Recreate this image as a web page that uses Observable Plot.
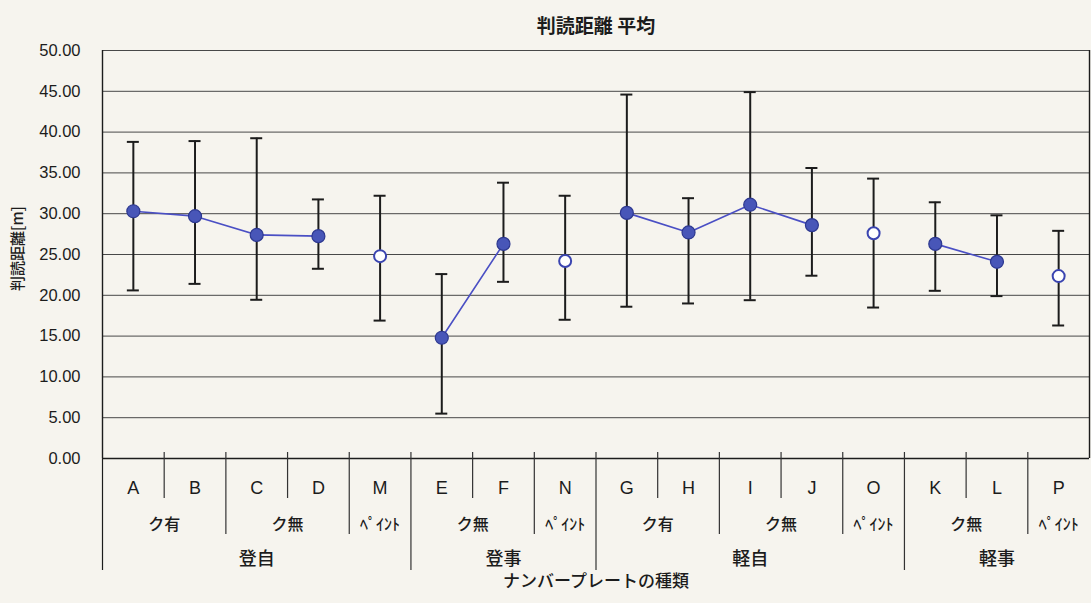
<!DOCTYPE html>
<html><head><meta charset="utf-8">
<script src="https://cdn.jsdelivr.net/npm/d3@7"></script>
<script src="https://cdn.jsdelivr.net/npm/@observablehq/plot@0.6"></script>
<style>
html,body{margin:0;padding:0;background:#f6f4ee;}
#chart svg{display:block;}
</style></head><body><div id="chart"></div>
<script>
const chartTitle = "判読距離 平均";
const yLabel = "判読距離[m]";
const xLabel = "ナンバープレートの種類";
const categories = ["A","B","C","D","M","E","F","N","G","H","I","J","O","K","L","P"];
const means = [30.3, 29.7, 27.4, 27.25, 24.8, 14.8, 26.3, 24.2, 30.1, 27.7, 31.1, 28.6, 27.6, 26.3, 24.1, 22.35];
const upper = [38.8, 38.9, 39.25, 31.75, 32.2, 22.6, 33.8, 32.2, 44.6, 31.9, 44.9, 35.6, 34.3, 31.4, 29.8, 27.9];
const lower = [20.6, 21.4, 19.45, 23.25, 16.9, 5.5, 21.65, 17.0, 18.6, 19.0, 19.4, 22.4, 18.5, 20.55, 19.9, 16.3];
const plateType = ["ク有","ク有","ク無","ク無","ﾍﾟｲﾝﾄ","ク無","ク無","ﾍﾟｲﾝﾄ","ク有","ク有","ク無","ク無","ﾍﾟｲﾝﾄ","ク無","ク無","ﾍﾟｲﾝﾄ"];
const plateClass = ["登自","登自","登自","登自","登自","登事","登事","登事","軽自","軽自","軽自","軽自","軽自","軽事","軽事","軽事"];
const paintType = "ﾍﾟｲﾝﾄ";
const yTicks = [0, 5, 10, 15, 20, 25, 30, 35, 40, 45, 50];

const rows = categories.map((c, i) => ({
  cat: c, pos: i + 0.5, mean: means[i], lo: lower[i], hi: upper[i],
  type: plateType[i], cls: plateClass[i], paint: plateType[i] === paintType
}));

function runs(keyFn, labelFn) {
  const out = [];
  rows.forEach((r, i) => {
    const k = keyFn(r);
    if (out.length && out[out.length - 1].key === k) out[out.length - 1].end = i + 1;
    else out.push({key: k, label: labelFn(r), start: i, end: i + 1});
  });
  return out.map(d => ({...d, mid: (d.start + d.end) / 2}));
}
const typeRuns = runs(r => r.cls + "|" + r.type, r => r.type);
const classRuns = runs(r => r.cls, r => r.cls);

const boundaries = d3.range(1, categories.length).map(b => {
  const a = rows[b - 1], c = rows[b];
  return {b, level: a.cls !== c.cls ? 3 : a.type !== c.type ? 2 : 1};
});

const ink = "#1c1c1c";
const latin = "'Liberation Sans', Arial, sans-serif";
const cjk = "'Noto Sans CJK JP', sans-serif";
const sepDepth = {1: -40, 2: -76, 3: -112};

const marks = [
  Plot.ruleY(yTicks.filter(v => v > 0), {stroke: "#484848", strokeWidth: 1}),
  Plot.ruleY([0], {stroke: ink, strokeWidth: 1.6}),
  Plot.ruleX([0], {stroke: ink, strokeWidth: 1.4}),
  Plot.ruleX([0], {x: d => d, y1: () => 0, y2: () => 0, insetBottom: sepDepth[3], stroke: ink, strokeWidth: 1.2}),
  Plot.ruleX([categories.length], {stroke: ink, strokeWidth: 1.4}),
  ...[1, 2, 3].map(lv => Plot.ruleX(boundaries.filter(d => d.level === lv), {
    x: "b", y1: () => 0, y2: () => 0, insetTop: -6, insetBottom: sepDepth[lv], stroke: "#333", strokeWidth: 1.2
  })),
  Plot.axisY(yTicks, {tickSize: 0, tickPadding: 22, tickFormat: d3.format(".2f"), fontSize: 16.5, fontFamily: latin, fill: ink, label: null}),
  Plot.ruleX(rows, {x: "pos", y1: "lo", y2: "hi", stroke: ink, strokeWidth: 2}),
  Plot.ruleY(rows, {y: "hi", x1: "pos", x2: "pos", insetLeft: -6, insetRight: -6, stroke: ink, strokeWidth: 2}),
  Plot.ruleY(rows, {y: "lo", x1: "pos", x2: "pos", insetLeft: -6, insetRight: -6, stroke: ink, strokeWidth: 2}),
  Plot.line(rows.filter(d => !d.paint), {x: "pos", y: "mean", z: "cls", stroke: "#4a4fc4", strokeWidth: 1.6}),
  Plot.dot(rows.filter(d => !d.paint), {x: "pos", y: "mean", r: 6.5, fill: "#4856b8", stroke: "#2d3890", strokeWidth: 1.2}),
  Plot.dot(rows.filter(d => d.paint), {x: "pos", y: "mean", r: 6, fill: "#ffffff", stroke: "#3a44b0", strokeWidth: 2}),
  Plot.text(rows, {x: "pos", y: () => 0, text: "cat", dy: 30, fontSize: 18, fontFamily: latin, fill: ink}),
  Plot.text(typeRuns, {x: "mid", y: () => 0, text: "label", dy: 66, fontSize: 16, fontFamily: cjk, fontWeight: 500, fill: ink}),
  Plot.text(classRuns, {x: "mid", y: () => 0, text: "label", dy: 101, fontSize: 18, fontFamily: cjk, fontWeight: 500, fill: ink}),
  Plot.text([xLabel], {frameAnchor: "bottom", dy: 128, fontSize: 17, fontFamily: cjk, fontWeight: 500, fill: ink}),
  Plot.text([chartTitle], {frameAnchor: "top", dy: -31, fontSize: 19, fontFamily: cjk, fontWeight: 700, fill: ink}),
  Plot.text([yLabel], {frameAnchor: "left", textAnchor: "middle", dx: -84, dy: -6, rotate: -90, fontSize: 15, fontFamily: cjk, fontWeight: 500, fill: ink})
];

const chart = Plot.plot({
  width: 1091, height: 603,
  marginLeft: 102, marginRight: 2, marginTop: 50, marginBottom: 145,
  x: {type: "linear", domain: [0, categories.length], axis: null},
  y: {domain: [0, 50], axis: null},
  style: {background: "#f6f4ee", fontFamily: latin, overflow: "visible"},
  marks
});
document.getElementById("chart").append(chart);
</script></body></html>
